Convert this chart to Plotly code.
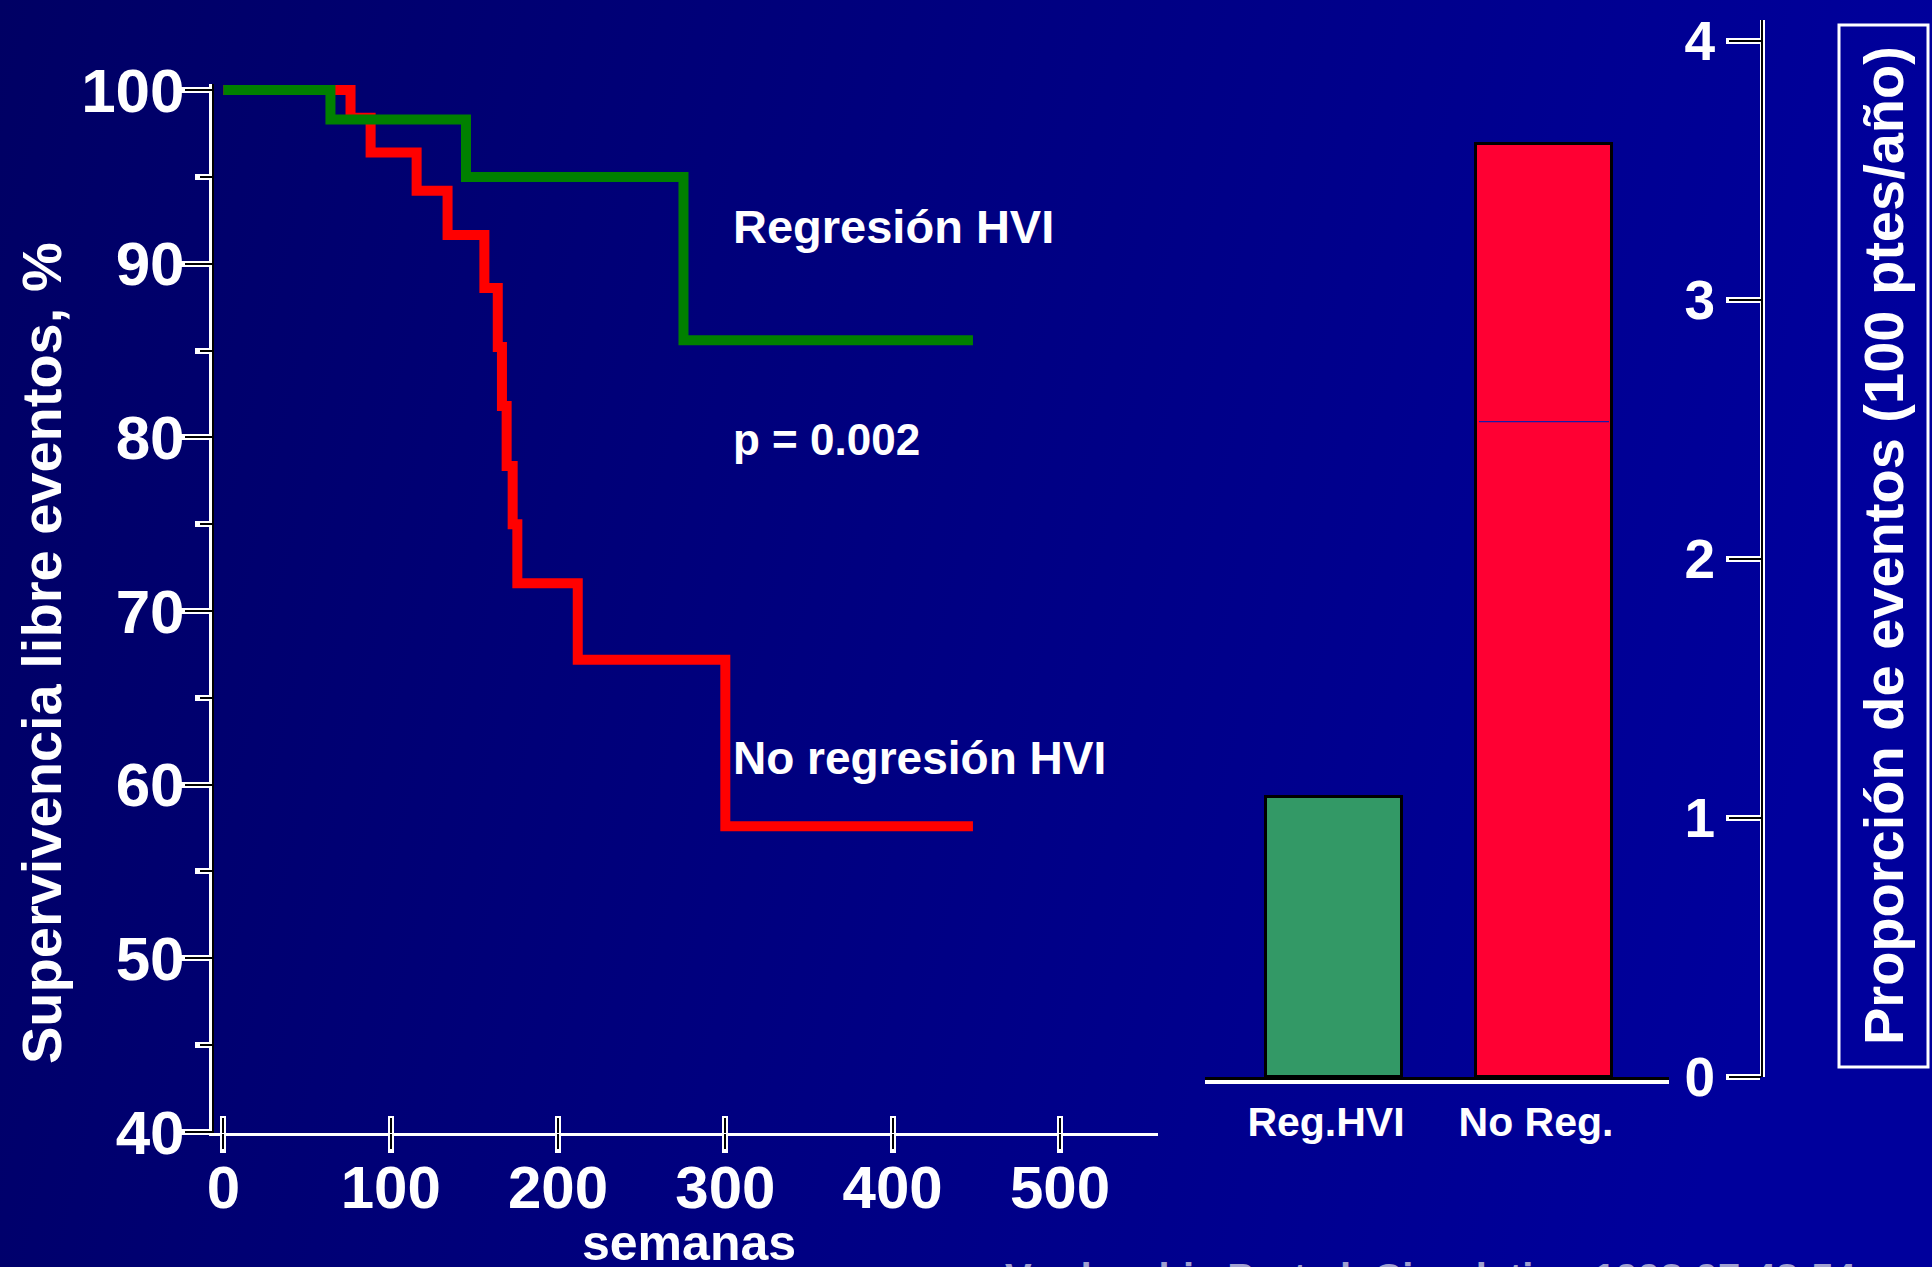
import base64
import plotly.graph_objects as go

# ---------------- data ----------------
weeks_reg = [0, 64, 145, 275, 448]
surv_reg = [100, 98.3, 95.0, 85.6, 85.6]

weeks_noreg = [0, 76, 88, 115.5, 134, 156, 164, 166.5, 169.3, 172.9, 175.7, 211.8, 300, 448]
surv_noreg = [100, 98.4, 96.4, 94.2, 91.65, 88.6, 85.2, 81.8, 78.35, 75.0, 71.6, 67.2, 57.6, 57.6]

bar_cats = ["Reg.HVI", "No Reg."]
bar_vals = [1.08, 3.6]
bar_split = [None, 2.53]   # thin line inside the red bar

x_ticks = [0, 100, 200, 300, 400, 500]
y_ticks = [40, 50, 60, 70, 80, 90, 100]
y_minor = [45, 55, 65, 75, 85, 95]
r_ticks = [0, 1, 2, 3, 4]

# ---------------- geometry helpers ----------------
W, H = 1932, 1267
def fx(px):
    return px / W
def fy(py):
    return 1 - py / H

FONT = "Liberation Sans, Arial, Helvetica, sans-serif"
WHITE = "white"
CLEAR = "rgba(0,0,0,0)"

# gradient background as svg data uri
svg = (
    f'<svg xmlns="http://www.w3.org/2000/svg" width="{W}" height="{H}">'
    '<defs><linearGradient id="g" x1="0" y1="0" x2="1" y2="0.15">'
    '<stop offset="0" stop-color="#000064"/>'
    '<stop offset="1" stop-color="#00009c"/>'
    '</linearGradient></defs>'
    f'<rect width="{W}" height="{H}" fill="url(#g)"/></svg>'
)
bg_uri = "data:image/svg+xml;base64," + base64.b64encode(svg.encode()).decode()

fig = go.Figure()

# survival curves
fig.add_trace(go.Scatter(x=weeks_noreg, y=surv_noreg, mode="lines", line_shape="hv",
                         line=dict(color="#ff0000", width=10), xaxis="x", yaxis="y",
                         hoverinfo="skip", showlegend=False))
fig.add_trace(go.Scatter(x=weeks_reg, y=surv_reg, mode="lines", line_shape="hv",
                         line=dict(color="#008000", width=10), xaxis="x", yaxis="y",
                         hoverinfo="skip", showlegend=False))

# bars
bar_w = 0.643
fig.add_trace(go.Bar(x=[0, 1], y=bar_vals, width=bar_w,
                     marker=dict(color=["#339966", "#ff0033"], line=dict(color="black", width=3)),
                     xaxis="x2", yaxis="y2", hoverinfo="skip", showlegend=False))
for i, v in enumerate(bar_split):
    if v is not None:
        fig.add_trace(go.Scatter(x=[i - bar_w / 2 + 0.012, i + bar_w / 2 - 0.012], y=[v, v],
                                 mode="lines", line=dict(color="#1a1aa8", width=1.2),
                                 xaxis="x2", yaxis="y2", hoverinfo="skip", showlegend=False))

# empty traces to activate overlay axes
for xa, ya in [("x3", "y"), ("x4", "y"), ("x5", "y"), ("x7", "y"), ("x", "y3"), ("x", "y5"),
               ("x6", "y2"), ("x2", "y4")]:
    fig.add_trace(go.Scatter(x=[], y=[], xaxis=xa, yaxis=ya, hoverinfo="skip", showlegend=False))

xdom = [fx(214), fx(1158)]
xrng = [-5.6, 558.6]
ydom = [fy(1133), fy(84)]
yrng = [39.94, 100.35]

x2dom = [fx(1205), fx(1669)]
x2rng = [-0.614, 1.595]
y2dom = [fy(1077), fy(20)]
y2rng = [0, 4.08]
ypos2 = fx(1762)

common = dict(showgrid=False, zeroline=False, automargin=False)
tickfont_x = dict(family=FONT, size=60, color=WHITE, weight="bold")
tickfont_y = dict(family=FONT, size=62, color=WHITE, weight="bold")

layout = dict(
    width=W, height=H, margin=dict(l=0, r=0, t=0, b=0),
    template="none", paper_bgcolor="#000080", plot_bgcolor=CLEAR,
    hovermode=False, showlegend=False, bargap=0,
    images=[dict(source=bg_uri, xref="paper", yref="paper", x=0, y=1, sizex=1, sizey=1,
                 xanchor="left", yanchor="top", sizing="stretch", layer="below")],
    # left panel: x axis (white outside ticks)
    xaxis=dict(domain=xdom, range=xrng, anchor="y", showline=True, linecolor=WHITE, linewidth=3,
               ticks="outside", ticklen=17, tickwidth=6, tickcolor=WHITE,
               tickvals=x_ticks, showticklabels=False, **common),
    xaxis3=dict(domain=xdom, range=xrng, anchor="y", overlaying="x", showline=False,
                ticks="inside", ticklen=17, tickwidth=6, tickcolor=WHITE,
                tickvals=x_ticks, showticklabels=False, **common),
    xaxis4=dict(domain=xdom, range=xrng, anchor="y", overlaying="x", showline=False,
                ticks="outside", ticklen=15, tickwidth=2, tickcolor="black",
                tickvals=x_ticks, showticklabels=False, **common),
    xaxis5=dict(domain=xdom, range=xrng, anchor="y", overlaying="x", showline=False,
                ticks="inside", ticklen=15, tickwidth=2, tickcolor="black",
                tickvals=x_ticks, showticklabels=False, **common),
    # x tick labels only
    xaxis7=dict(domain=xdom, range=xrng, anchor="y", overlaying="x", showline=False,
                ticks="outside", ticklen=2, tickwidth=1, tickcolor=CLEAR,
                tickvals=x_ticks, tickfont=tickfont_x, **common),
    yaxis=dict(domain=ydom, range=yrng, anchor="x", showline=True, linecolor=WHITE, linewidth=5,
               ticks="outside", ticklen=29, tickwidth=6, tickcolor=WHITE,
               tickvals=y_ticks, showticklabels=False,
               minor=dict(ticks="outside", ticklen=14, tickwidth=6, tickcolor=WHITE, tickvals=y_minor),
               **common),
    yaxis3=dict(domain=ydom, range=yrng, anchor="x", overlaying="y", showline=True,
                linecolor="black", linewidth=1.5,
                ticks="outside", ticklen=27, tickwidth=2, tickcolor="black",
                tickvals=y_ticks, showticklabels=False,
                minor=dict(ticks="outside", ticklen=12, tickwidth=2, tickcolor="black", tickvals=y_minor),
                **common),
    # y tick labels only
    yaxis5=dict(domain=ydom, range=yrng, anchor="x", overlaying="y", showline=False,
                ticks="outside", ticklen=16, tickwidth=1, tickcolor=CLEAR,
                tickvals=y_ticks, tickfont=tickfont_y, **common),
    # right panel
    xaxis2=dict(domain=x2dom, range=x2rng, anchor="y2", showline=True, linecolor=WHITE, linewidth=7,
                ticks="outside", ticklen=3, tickcolor=CLEAR,
                tickvals=[0, 1], ticktext=bar_cats, ticklabelshift=-8,
                tickfont=dict(family=FONT, size=41, color=WHITE, weight="bold"), **common),
    xaxis6=dict(domain=x2dom, range=x2rng, anchor="y2", overlaying="x2", showline=True,
                linecolor="black", linewidth=3, showticklabels=False, ticks="", **common),
    yaxis2=dict(domain=y2dom, range=y2rng, anchor="free", position=ypos2, side="left",
                showline=True, linecolor=WHITE, linewidth=5,
                ticks="outside", ticklen=34, tickwidth=6, tickcolor=WHITE, tickvals=r_ticks,
                tickfont=dict(family=FONT, size=55, color=WHITE, weight="bold"), **common),
    yaxis4=dict(domain=y2dom, range=y2rng, anchor="free", position=ypos2, side="left",
                overlaying="y2", showline=True, linecolor="black", linewidth=1.5,
                ticks="outside", ticklen=32, tickwidth=2, tickcolor="black", tickvals=r_ticks,
                showticklabels=False, **common),
    shapes=[dict(type="rect", xref="paper", yref="paper", x0=fx(1839), x1=fx(1928),
                 y0=fy(1067), y1=fy(25), line=dict(color=WHITE, width=3), layer="above")],
)

def txt(s, px, py, size, xanchor="left", angle=0, color=WHITE, yanchor="middle"):
    return dict(text=s, x=fx(px), y=fy(py), xref="paper", yref="paper", showarrow=False,
                xanchor=xanchor, yanchor=yanchor, textangle=angle,
                font=dict(family=FONT, size=size, color=color, weight="bold"))

layout["annotations"] = [
    txt("Regresión HVI", 731, 226, 47),
    txt("p = 0.002", 731, 440, 44),
    txt("No regresión HVI", 731, 758, 46),
    txt("Supervivencia libre eventos, %", 41, 653, 56, xanchor="center", angle=-90),
    txt("semanas", 689, 1243, 50, xanchor="center"),
    txt("Proporción de eventos (100 ptes/año)", 1883, 546, 56, xanchor="center", angle=-90),
    txt("Verdecchia P, et al. Circulation 1998;97:48-54", 1003, 1254, 40,
        color="#a0a0d0", yanchor="top"),
]

fig.update_layout(**layout)
fig.write_html("out.html")
